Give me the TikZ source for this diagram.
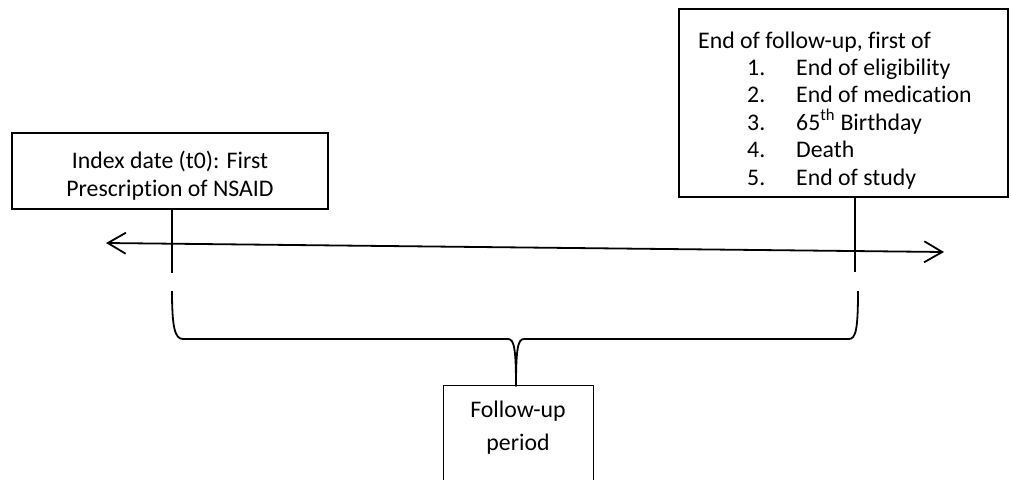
\documentclass[tikz,border=0pt]{standalone}
\usepackage{fontspec}
\setmainfont{Carlito}[Ligatures=NoCommon]
\usetikzlibrary{arrows.meta}
\begin{document}
\begin{tikzpicture}[x=1pt,y=-1pt,
  box/.style={draw,line width=1.8pt,inner sep=0pt},
  thinbox/.style={draw,line width=0.9pt,inner sep=0pt},
  txt/.style={inner sep=0pt,font=\fontsize{23.8}{28}\selectfont},
  ln/.style={line width=1.8pt},
  tl/.style={{Straight Barb[length=18pt,width=21pt]}-{Straight Barb[length=18pt,width=21pt]},line width=1.8pt}]
\clip (0,0) rectangle (1011,479);
\useasboundingbox (0,0) rectangle (1011,479);
% boxes
\node[box,minimum width=316pt,minimum height=76pt] (idx) at (170,171) {};
\node[box,minimum width=329pt,minimum height=188pt] (end) at (843.5,103) {};
\node[thinbox,minimum width=150pt,minimum height=110pt] (fu) at (518,440) {};
% texts
\node[txt,anchor=base] (idx1) at (170,168) {Index date (t0): First};
\node[txt,anchor=base] (idx2) at (170,196) {Prescription of NSAID};
\node[txt,anchor=base west] (e0) at (698,48) {End of follow-up, first of};
\node[txt,anchor=base west] (n1) at (747,75) {1.};
\node[txt,anchor=base west] (t1) at (796,75) {End of eligibility};
\node[txt,anchor=base west] (n2) at (747,102) {2.};
\node[txt,anchor=base west] (t2) at (796,102) {End of medication};
\node[txt,anchor=base west] (n3) at (747,130) {3.};
\node[txt,anchor=base west] (t3) at (796,130) {65\textsuperscript{th} Birthday};
\node[txt,anchor=base west] (n4) at (747,157) {4.};
\node[txt,anchor=base west] (t4) at (796,157) {Death};
\node[txt,anchor=base west] (n5) at (747,185) {5.};
\node[txt,anchor=base west] (t5) at (796,185) {End of study};
\node[txt,anchor=base] (f1) at (518,417) {Follow-up};
\node[txt,anchor=base] (f2) at (518,450) {period};
% timeline
\coordinate (aL) at (106,243);
\coordinate (aR) at (944,252);
\draw[tl] (aL) -- (aR);
\coordinate (tkL) at (172,273);
\coordinate (tkR) at (855,272);
\draw[ln] (idx.south -| tkL) -- (tkL);
\draw[ln] (end.south -| tkR) -- (tkR);
% brace
\coordinate (bL) at (172,291);
\coordinate (bR) at (858,291);
\coordinate (bT) at (516,386);
\draw[ln,line join=round] (bL) .. controls (172,328) and (175,339) .. (183,339) -- (508,339)
  .. controls (514,339) and (516,348) .. (bT)
  .. controls (516,348) and (518,339) .. (524,339) -- (849,339)
  .. controls (856,339) and (858,328) .. (bR);
\end{tikzpicture}
\end{document}
